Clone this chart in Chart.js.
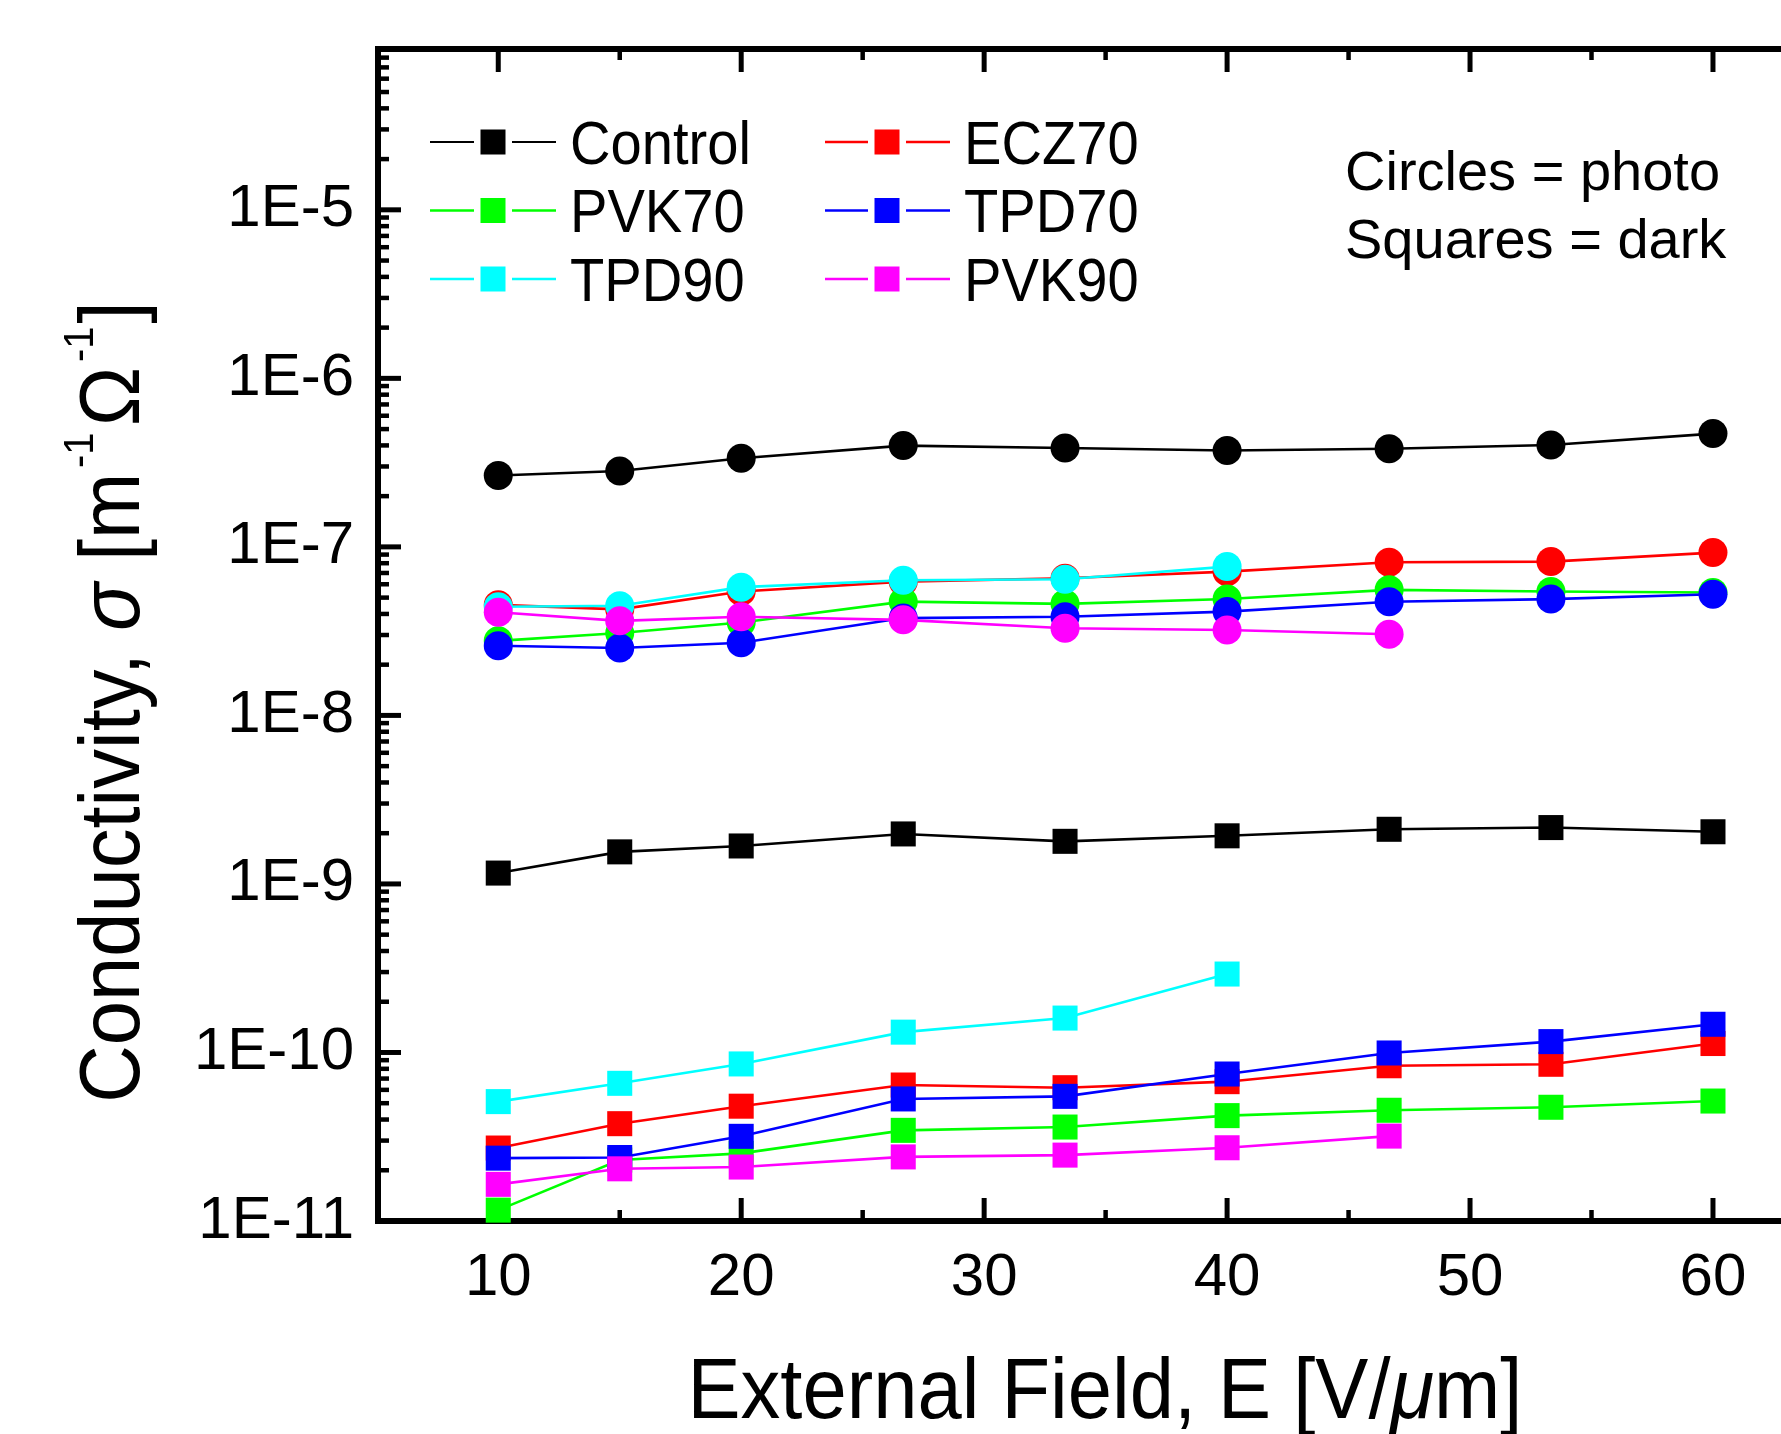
<!DOCTYPE html>
<html>
<head>
<meta charset="utf-8">
<script src="https://cdn.jsdelivr.net/npm/chart.js@4.4.1/dist/chart.umd.min.js"></script>
<style>
html,body{margin:0;padding:0;background:#ffffff;overflow:hidden}
canvas{display:block}
</style>
</head>
<body>
<canvas id="c" width="1781" height="1434"></canvas>
<script>
// ---------------- data ----------------
const fieldE = [10, 15, 20, 26.67, 33.33, 40, 46.67, 53.33, 60];

const materials = ['Control', 'ECZ70', 'PVK70', 'TPD70', 'TPD90', 'PVK90'];
const seriesColors = ['#000000', '#ff0000', '#00ff00', '#0000ff', '#00ffff', '#ff00ff'];

// photo conductivity (circles)
const controlPhoto = [2.65e-7, 2.82e-7, 3.36e-7, 3.99e-7, 3.86e-7, 3.73e-7, 3.82e-7, 4.02e-7, 4.70e-7];
const ecz70Photo   = [4.53e-8, 4.26e-8, 5.43e-8, 6.22e-8, 6.52e-8, 7.13e-8, 8.11e-8, 8.18e-8, 9.25e-8];
const pvk70Photo   = [2.77e-8, 3.08e-8, 3.56e-8, 4.73e-8, 4.59e-8, 4.91e-8, 5.56e-8, 5.43e-8, 5.36e-8];
const tpd70Photo   = [2.59e-8, 2.51e-8, 2.70e-8, 3.78e-8, 3.85e-8, 4.13e-8, 4.73e-8, 4.90e-8, 5.23e-8];
const tpd90Photo   = [4.41e-8, 4.47e-8, 5.77e-8, 6.34e-8, 6.43e-8, 7.64e-8];
const pvk90Photo   = [4.09e-8, 3.64e-8, 3.85e-8, 3.69e-8, 3.29e-8, 3.21e-8, 3.03e-8];

// dark conductivity (squares)
const controlDark = [1.16e-9, 1.55e-9, 1.68e-9, 1.98e-9, 1.79e-9, 1.93e-9, 2.11e-9, 2.16e-9, 2.04e-9];
const ecz70Dark   = [2.71e-11, 3.78e-11, 4.80e-11, 6.41e-11, 6.18e-11, 6.71e-11, 8.34e-11, 8.51e-11, 1.13e-10];
const pvk70Dark   = [1.16e-11, 2.30e-11, 2.52e-11, 3.45e-11, 3.61e-11, 4.22e-11, 4.54e-11, 4.73e-11, 5.15e-11];
const tpd70Dark   = [2.36e-11, 2.38e-11, 3.18e-11, 5.30e-11, 5.49e-11, 7.45e-11, 9.93e-11, 1.16e-10, 1.47e-10];
const tpd90Dark   = [5.11e-11, 6.56e-11, 8.55e-11, 1.32e-10, 1.60e-10, 2.92e-10];
const pvk90Dark   = [1.65e-11, 2.04e-11, 2.09e-11, 2.40e-11, 2.46e-11, 2.72e-11, 3.19e-11];

// ticks
const xTickValues = [10, 15, 20, 25, 30, 35, 40, 45, 50, 55, 60];
const xTickLabels = ['10', '', '20', '', '30', '', '40', '', '50', '', '60'];
const yDecadeValues = [1e-11, 1e-10, 1e-9, 1e-8, 1e-7, 1e-6, 1e-5];
const yTickLabels = ['1E-11', '1E-10', '1E-9', '1E-8', '1E-7', '1E-6', '1E-5'];
const yMinorMantissas = [2, 3, 4, 5, 6, 7, 8, 9];

const photoSeries = [controlPhoto, ecz70Photo, pvk70Photo, tpd70Photo, tpd90Photo, pvk90Photo];
const darkSeries  = [controlDark, ecz70Dark, pvk70Dark, tpd70Dark, tpd90Dark, pvk90Dark];

// ---------------- build ----------------
const X_MIN = 5.05, X_MAX = 62.8, Y_MIN = 1e-11, Y_MAX = 9e-5;
const FONT = '"Liberation Sans", Arial, Helvetica, sans-serif';

const toPoints = vals => vals.map((v, i) => ({x: fieldE[i], y: v}));
const datasets = [];
materials.forEach((name, k) => {
  const common = {
    borderColor: seriesColors[k],
    backgroundColor: seriesColors[k],
    pointBackgroundColor: seriesColors[k],
    pointBorderColor: seriesColors[k],
    pointBorderWidth: 0,
    borderWidth: 2.6,
    showLine: true,
    fill: false,
    tension: 0,
    clip: false,
    order: materials.length - 1 - k
  };
  datasets.push(Object.assign({}, common, {
    label: name + ' photo', data: toPoints(photoSeries[k]),
    pointStyle: 'circle', pointRadius: 14.5, pointHoverRadius: 14.5
  }));
  datasets.push(Object.assign({}, common, {
    label: name + ' dark', data: toPoints(darkSeries[k]),
    pointStyle: 'rect', pointRadius: 17.7, pointHoverRadius: 17.7
  }));
});

function line(ctx, x1, y1, x2, y2) {
  ctx.beginPath(); ctx.moveTo(x1, y1); ctx.lineTo(x2, y2); ctx.stroke();
}

function segFont(s, size) {
  const fs = size * (s.scale || 1);
  return (s.italic ? 'italic ' : '') + fs + 'px ' + FONT;
}
function richWidth(ctx, segs, size) {
  let w = 0;
  for (const s of segs) { ctx.font = segFont(s, size); w += ctx.measureText(s.t).width + (s.gap || 0) * size; }
  return w;
}
function drawRich(ctx, segs, size, x0) {
  let x = x0;
  for (const s of segs) {
    ctx.font = segFont(s, size);
    ctx.fillText(s.t, x, -(s.rise || 0) * size);
    x += ctx.measureText(s.t).width + (s.gap || 0) * size;
  }
}

const frameAndTicks = {
  id: 'frameAndTicks',
  beforeDatasetsDraw(chart) {
    const ctx = chart.ctx, a = chart.chartArea;
    const xs = chart.scales.x, ys = chart.scales.y;
    ctx.save();
    ctx.strokeStyle = '#000';
    ctx.lineCap = 'butt';
    // frame (left, top, bottom)
    ctx.lineWidth = 6; ctx.lineJoin = 'miter';
    ctx.beginPath();
    ctx.moveTo(a.right + 10, a.top); ctx.lineTo(a.left, a.top);
    ctx.lineTo(a.left, a.bottom); ctx.lineTo(a.right + 10, a.bottom);
    ctx.stroke();
    // x ticks (bottom & top), inward
    xTickValues.forEach((v, i) => {
      const px = xs.getPixelForValue(v);
      const major = xTickLabels[i] !== '';
      const len = major ? 23 : 11;
      ctx.lineWidth = major ? 5 : 4.5;
      line(ctx, px, a.bottom, px, a.bottom - len);
      line(ctx, px, a.top, px, a.top + len);
    });
    // y ticks, inward
    yDecadeValues.forEach(v => {
      const py = ys.getPixelForValue(v);
      ctx.lineWidth = 5;
      line(ctx, a.left, py, a.left + 23, py);
      yMinorMantissas.forEach(m => {
        const mv = m * v;
        if (mv < Y_MAX) {
          const pm = ys.getPixelForValue(mv);
          ctx.lineWidth = 4.5;
          line(ctx, a.left, pm, a.left + 11, pm);
        }
      });
    });
    ctx.restore();
  }
};

const textsAndLegend = {
  id: 'textsAndLegend',
  afterDraw(chart) {
    const ctx = chart.ctx;
    ctx.save();
    ctx.fillStyle = '#000';
    ctx.textBaseline = 'alphabetic';
    ctx.textAlign = 'left';

    // legend (2 columns x 3 rows)
    const colLine = [[430, 556, 493], [825, 950, 887]];
    const colText = [570, 964];
    const rowY = [142, 210.5, 279];
    materials.forEach((name, k) => {
      const c = k % 2, r = Math.floor(k / 2);
      const [x1, x2, xm] = colLine[c];
      const y = rowY[r];
      ctx.strokeStyle = seriesColors[k];
      ctx.lineWidth = k === 0 ? 2 : 2.6;
      line(ctx, x1, y, xm - 19, y);
      line(ctx, xm + 19, y, x2, y);
      ctx.fillStyle = seriesColors[k];
      ctx.fillRect(xm - 12.5, y - 12.5, 25, 25);
      ctx.fillStyle = '#000';
      ctx.save();
      ctx.translate(colText[c], y + 21.5);
      ctx.scale(0.92, 1);
      ctx.font = '61px ' + FONT;
      ctx.fillText(name, 0, 0);
      ctx.restore();
    });

    // annotation
    ctx.font = '56px ' + FONT;
    ctx.fillText('Circles = photo', 1345, 190);
    ctx.fillText('Squares = dark', 1345, 258);

    // x-axis title
    const xTitle = [{t: 'External Field, E [V/'}, {t: '\u03BC', italic: true}, {t: 'm]'}];
    ctx.save();
    ctx.translate(1105, 1418);
    ctx.scale(0.925, 1);
    const wx = richWidth(ctx, xTitle, 86);
    drawRich(ctx, xTitle, 86, -wx / 2);
    ctx.restore();

    // y-axis title
    const yTitle = [
      {t: 'Conductivity, '}, {t: '\u03C3', italic: true}, {t: ' [m', gap: 0.06},
      {t: '-1', scale: 0.5, rise: 0.53, gap: 0.08}, {t: '\u03A9', gap: 0.06},
      {t: '-1', scale: 0.5, rise: 0.53, gap: 0.04}, {t: ']'}
    ];
    ctx.save();
    ctx.translate(139, 702);
    ctx.rotate(-Math.PI / 2);
    ctx.scale(0.925, 1);
    const wy = richWidth(ctx, yTitle, 86);
    drawRich(ctx, yTitle, 86, -wy / 2);
    ctx.restore();

    ctx.restore();
  }
};

Chart.defaults.font.family = FONT;
Chart.defaults.color = '#000';

function zeroPad(s) { s.paddingLeft = 0; s.paddingRight = 0; s.paddingTop = 0; s.paddingBottom = 0; }

new Chart(document.getElementById('c'), {
  type: 'line',
  data: {datasets},
  options: {
    responsive: false,
    devicePixelRatio: 1,
    animation: false,
    events: [],
    layout: {padding: 0, autoPadding: false},
    plugins: {legend: {display: false}, tooltip: {enabled: false}, title: {display: false}},
    scales: {
      x: {
        type: 'linear', position: 'bottom', min: X_MIN, max: X_MAX,
        grid: {display: false, drawTicks: false},
        border: {display: true, width: 6, color: '#000'},
        afterBuildTicks: s => { s.ticks = xTickValues.map(v => ({value: v})); },
        afterFit: s => { s.height = 213; zeroPad(s); },
        ticks: {
          autoSkip: false, maxRotation: 0, minRotation: 0, padding: 21, color: '#000',
          font: {size: 60, family: FONT},
          callback: v => { const i = xTickValues.indexOf(v); return i >= 0 ? xTickLabels[i] : ''; }
        }
      },
      x2: {
        type: 'linear', position: 'top', min: X_MIN, max: X_MAX,
        grid: {display: false, drawTicks: false},
        border: {display: true, width: 6, color: '#000'},
        ticks: {display: false},
        afterFit: s => { s.height = 49; zeroPad(s); }
      },
      y: {
        type: 'logarithmic', position: 'left', min: Y_MIN, max: Y_MAX,
        grid: {display: false, drawTicks: false},
        border: {display: true, width: 6, color: '#000'},
        afterBuildTicks: s => { s.ticks = yDecadeValues.map(v => ({value: v})); },
        afterFit: s => { s.width = 378; zeroPad(s); },
        ticks: {
          autoSkip: false, padding: 24, color: '#000',
          font: {size: 60, family: FONT, lineHeight: 0.7},
          callback: v => {
            for (let i = 0; i < yDecadeValues.length; i++) {
              if (Math.abs(v / yDecadeValues[i] - 1) < 1e-6) return yTickLabels[i];
            }
            return '';
          }
        }
      }
    }
  },
  plugins: [frameAndTicks, textsAndLegend]
});
</script>
</body>
</html>
